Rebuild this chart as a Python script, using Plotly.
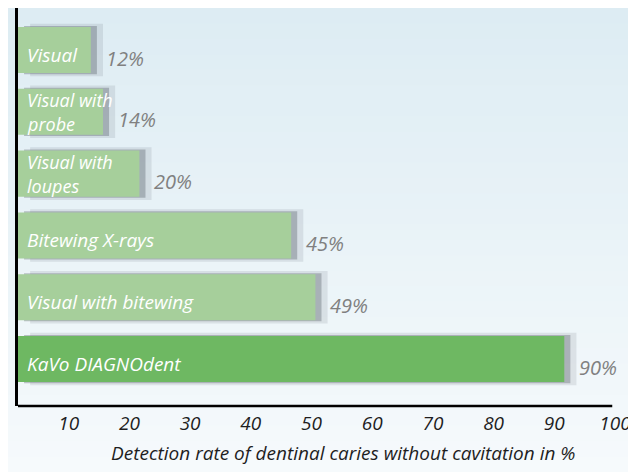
import plotly.graph_objects as go

categories = ["Visual", "Visual with<br>probe", "Visual with<br>loupes",
              "Bitewing X-rays", "Visual with bitewing", "KaVo DIAGNOdent"]
values = [12, 14, 20, 45, 49, 90]
value_labels = ["12%", "14%", "20%", "45%", "49%", "90%"]
bar_colors = ["#a6cf9b", "#a6cf9b", "#a6cf9b", "#a6cf9b", "#a6cf9b", "#6eb862"]
tick_vals = [10, 20, 30, 40, 50, 60, 70, 80, 90, 100]
x_title = "Detection rate of dentinal caries without cavitation in %"

FONT = "Open Sans"
# page body adds an 8px offset, so the figure is sized to the visible area
W, H = 628, 464
ML, MR, MT, MB = 10, 11, 0, 66
PW, PH = W - ML - MR, H - MT - MB

ykeys = list(range(len(categories)))

fig = go.Figure()

# soft shadows behind bars
fig.add_trace(go.Bar(y=ykeys, x=values, base=2.0, orientation="h", width=0.85,
                     marker=dict(color="rgba(90,100,110,0.14)", line=dict(width=0)),
                     hoverinfo="skip", showlegend=False))
fig.add_trace(go.Bar(y=ykeys, x=values, base=1.0, orientation="h", width=0.78,
                     marker=dict(color="rgba(80,88,98,0.35)", line=dict(width=0)),
                     hoverinfo="skip", showlegend=False))
# main bars
fig.add_trace(go.Bar(y=ykeys, x=values, orientation="h", width=0.745,
                     marker=dict(color=bar_colors, line=dict(width=0)),
                     showlegend=False))

annotations = []
for i, (cat, v, vl) in enumerate(zip(categories, values, value_labels)):
    lines = cat.split("<br>")
    if len(lines) == 1:
        shifts, fs = [-5], 19
    else:
        shifts, fs = [12, -12], 18
    for line, s in zip(lines, shifts):
        annotations.append(dict(x=0, y=i, xref="x", yref="y", text=line,
                                xanchor="left", yanchor="middle", xshift=7, yshift=s,
                                showarrow=False,
                                font=dict(family=FONT, size=fs, color="white", style="italic")))
    annotations.append(dict(x=v, y=i, xref="x", yref="y", text=vl,
                            xanchor="left", yanchor="middle", xshift=13, yshift=-8,
                            showarrow=False,
                            font=dict(family=FONT, size=20, color="#808080", style="italic")))

annotations.append(dict(x=0.5, y=0, xref="paper", yref="paper", text=x_title,
                        xanchor="center", yanchor="middle", xshift=21, yshift=-47,
                        showarrow=False,
                        font=dict(family=FONT, size=19, color="#1e1e1e", style="italic")))

# background gradient strips
shapes = []
top = (221, 236, 243)
bot = (246, 250, 252)
N = 30
for k in range(N):
    py0 = k * H / N
    py1 = (k + 1) * H / N + 1
    t = (k + 0.5) / N
    c = tuple(round(top[j] + (bot[j] - top[j]) * t) for j in range(3))
    shapes.append(dict(type="rect", xref="paper", yref="paper",
                       x0=-ML / PW - 0.02, x1=1 + MR / PW + 0.02,
                       y0=(H - MB - py1) / PH, y1=(H - MB - py0) / PH,
                       fillcolor="rgb(%d,%d,%d)" % c, line=dict(width=0), layer="below"))
# x axis baseline
shapes.append(dict(type="line", xref="x", yref="paper", x0=-0.3, x1=97.9, y0=0, y1=0,
                   line=dict(color="black", width=2.5), layer="above"))

fig.update_layout(
    width=W, height=H,
    margin=dict(l=ML, r=MR, t=MT, b=MB),
    paper_bgcolor="rgb(246,250,252)",
    plot_bgcolor="rgba(0,0,0,0)",
    barmode="overlay",
    annotations=annotations,
    shapes=shapes,
    xaxis=dict(range=[0, 100], tickvals=tick_vals, ticktext=[str(t) for t in tick_vals],
               showgrid=False, zeroline=False, showline=False, ticks="",
               ticklabelshift=-10, ticklabelstandoff=4,
               tickfont=dict(family=FONT, size=19, color="#1e1e1e", style="italic"),
               fixedrange=True),
    yaxis=dict(range=[5.76, -0.68], showgrid=False, zeroline=False, showticklabels=False,
               showline=True, linecolor="black", linewidth=2.5, ticks="", fixedrange=True),
)

fig.write_html("out.html")
